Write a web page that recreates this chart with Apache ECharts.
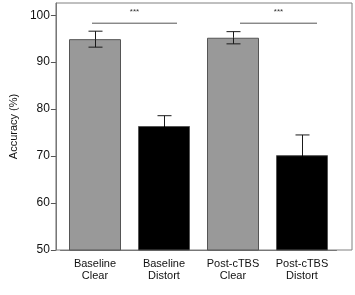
<!DOCTYPE html>
<html>
<head>
<meta charset="utf-8">
<script src="https://cdn.jsdelivr.net/npm/echarts@6/dist/echarts.min.js"></script>
<style>
  html, body { margin: 0; padding: 0; background: #fff; }
  #chart { width: 355px; height: 295px; }
</style>
</head>
<body>
<div id="chart"></div>
<script>
var categories = ['Baseline\nClear', 'Baseline\nDistort', 'Post-cTBS\nClear', 'Post-cTBS\nDistort'];
var means = [94.9, 76.4, 95.2, 70.2];
var errors = [1.7, 2.2, 1.3, 4.3];
var barColors = ['#999999', '#000000', '#999999', '#000000'];
var yTicks = [50, 60, 70, 80, 90, 100];
// significance brackets: [from, to, level, label]
var sigPairs = [[0, 1, 98.3, '***'], [2, 3, 98.3, '***']];
var sigOffsets = [[-3, 13], [7, 15]];

var chart = echarts.init(document.getElementById('chart'));

var barData = means.map(function(v, i) {
  return { value: v, itemStyle: { color: barColors[i] } };
});
var errData = means.map(function(v, i) {
  return [i, v - errors[i], v + errors[i]];
});

var yMin = 50, yMax = 102.6;

var option = {
  animation: false,
  textStyle: { fontFamily: 'Liberation Sans, Arial, sans-serif' },
  grid: [
    { left: 60.5, right: 18.5, top: 3, bottom: 45 },
    { left: 46, right: 3, top: 3, bottom: 45, show: true, borderColor: '#808080', borderWidth: 1 }
  ],
  xAxis: [
    {
      type: 'category',
      data: categories,
      axisLine: { lineStyle: { color: '#777' } },
      axisTick: { alignWithLabel: true, length: 4, lineStyle: { color: '#555' } },
      axisLabel: { interval: 0, color: '#111', fontSize: 11, lineHeight: 12, margin: 8 }
    },
    { gridIndex: 1, type: 'value', show: false }
  ],
  yAxis: [
    { type: 'value', min: yMin, max: yMax, show: false },
    {
      gridIndex: 1,
      type: 'value',
      min: yMin,
      max: yMax,
      name: 'Accuracy (%)',
      nameLocation: 'middle',
      nameGap: 35,
      nameTextStyle: { color: '#111', fontSize: 11 },
      splitLine: { show: false },
      axisLine: { show: true, lineStyle: { color: '#777' } },
      axisTick: { show: true, length: 5, customValues: yTicks, lineStyle: { color: '#555' } },
      axisLabel: { color: '#111', fontSize: 12, margin: 6, customValues: yTicks }
    }
  ],
  series: [
    {
      type: 'bar',
      data: barData,
      barWidth: 52,
      itemStyle: { borderColor: '#555', borderWidth: 1 }
    },
    {
      type: 'custom',
      data: errData,
      z: 5,
      renderItem: function(params, api) {
        var lo = api.coord([api.value(0), api.value(1)]);
        var hi = api.coord([api.value(0), api.value(2)]);
        var x = Math.round(hi[0]) + 0.5;
        var w = 7;
        var st = { stroke: '#1a1a1a', lineWidth: 1 };
        var stLow = { stroke: barColors[params.dataIndex] === '#000000' ? '#000' : '#1a1a1a', lineWidth: 1 };
        var mid = api.coord([api.value(0), means[params.dataIndex]]);
        return {
          type: 'group',
          children: [
            { type: 'line', shape: { x1: x, y1: hi[1], x2: x, y2: mid[1] }, style: st },
            { type: 'line', shape: { x1: x, y1: mid[1], x2: x, y2: lo[1] }, style: stLow },
            { type: 'line', shape: { x1: x - w, y1: hi[1], x2: x + w, y2: hi[1] }, style: st },
            { type: 'line', shape: { x1: x - w, y1: lo[1], x2: x + w, y2: lo[1] }, style: stLow }
          ]
        };
      }
    },
    {
      type: 'custom',
      data: sigPairs.map(function(p) { return [p[0], p[1], p[2]]; }),
      z: 5,
      renderItem: function(params, api) {
        var i = params.dataIndex;
        var a = api.coord([api.value(0), api.value(2)]);
        var b = api.coord([api.value(1), api.value(2)]);
        var x1 = a[0] + sigOffsets[i][0];
        var x2 = b[0] + sigOffsets[i][1];
        return {
          type: 'group',
          children: [
            { type: 'line', shape: { x1: x1, y1: a[1], x2: x2, y2: a[1] }, style: { stroke: '#555', lineWidth: 1 } },
            { type: 'text', style: { text: sigPairs[i][3], x: (x1 + x2) / 2, y: a[1] - 11, align: 'center', verticalAlign: 'middle', fontSize: 8, fill: '#333', fontFamily: 'Liberation Sans, Arial' } }
          ]
        };
      }
    }
  ]
};

chart.setOption(option);
</script>
</body>
</html>
